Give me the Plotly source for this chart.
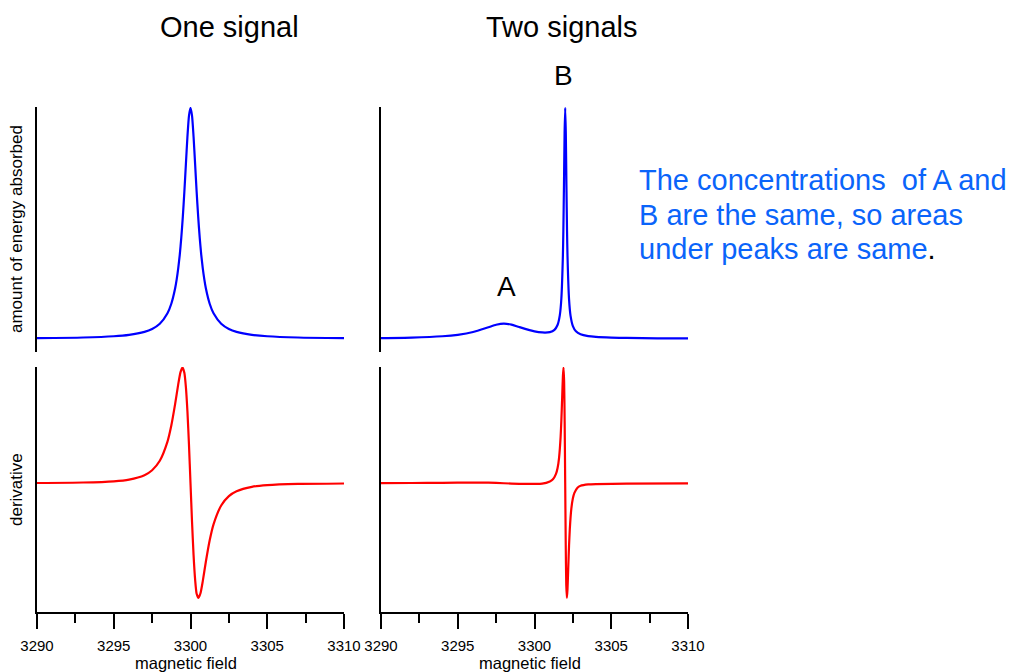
import plotly.graph_objects as go

# ---------------- data ----------------
left_abs_x = [3290, 3293, 3295, 3296, 3297, 3297.5, 3298, 3298.5, 3298.75, 3299,
              3299.1, 3299.2, 3299.3, 3299.4, 3299.5, 3299.6, 3299.7, 3299.8, 3299.9, 3300,
              3300.1, 3300.2, 3300.3, 3300.4, 3300.5, 3300.6, 3300.7, 3300.8, 3300.9, 3301,
              3301.25, 3301.5, 3302, 3302.5, 3303, 3304, 3305, 3307, 3310]
left_abs_y = [0.0028, 0.0057, 0.0111, 0.0173, 0.0303, 0.043, 0.0656, 0.111, 0.152, 0.219,
              0.2575, 0.305, 0.364, 0.438, 0.529, 0.637, 0.757, 0.875, 0.966, 1.0,
              0.966, 0.875, 0.757, 0.637, 0.529, 0.438, 0.364, 0.305, 0.2575, 0.219,
              0.152, 0.111, 0.0656, 0.043, 0.0303, 0.0173, 0.0111, 0.0057, 0.0028]

left_der_x = [3290, 3293, 3295, 3296, 3297, 3297.5, 3298, 3298.5, 3298.75, 3299,
              3299.2, 3299.35, 3299.48, 3299.6, 3299.7, 3299.8, 3299.9, 3300,
              3300.1, 3300.2, 3300.3, 3300.4, 3300.52, 3300.65, 3300.8, 3301,
              3301.25, 3301.5, 3302, 3302.5, 3303, 3304, 3305, 3307, 3310]
left_der_y = [0.0022, 0.0063, 0.0168, 0.0318, 0.070, 0.1125, 0.194, 0.359, 0.498, 0.685,
              0.854, 0.960, 1.0, 0.954, 0.831, 0.621, 0.334, 0.0,
              -0.334, -0.621, -0.831, -0.954, -0.99, -0.95, -0.845, -0.678,
              -0.493, -0.355, -0.192, -0.111, -0.069, -0.031, -0.0166, -0.0062, -0.0022]

right_abs_x = [3290, 3292, 3294, 3295, 3296, 3297, 3297.5, 3298, 3298.5, 3299,
               3300, 3300.5, 3301, 3301.3, 3301.5, 3301.65, 3301.75, 3301.85, 3301.88,
               3301.92, 3301.96, 3302, 3302.04, 3302.08, 3302.12, 3302.15, 3302.25,
               3302.35, 3302.5, 3302.7, 3303, 3303.5, 3304, 3305, 3306, 3308, 3310]
right_abs_y = [0.0032, 0.0055, 0.0111, 0.0175, 0.0294, 0.0502, 0.0609, 0.0658, 0.0613, 0.0510,
               0.0321, 0.0276, 0.0292, 0.039, 0.0598, 0.1027, 0.1745, 0.3615, 0.469,
               0.6655, 0.89, 1.0, 0.89, 0.665, 0.466, 0.360, 0.172,
               0.0995, 0.0552, 0.0325, 0.0194, 0.0116, 0.0084, 0.0054, 0.0039, 0.0024, 0.0016]

right_der_x = [3290, 3292, 3294, 3296, 3297, 3298, 3299, 3300, 3300.5, 3301,
               3301.2, 3301.4, 3301.5, 3301.6, 3301.7, 3301.75, 3301.8, 3301.85, 3301.89,
               3301.93, 3301.965, 3302, 3302.035, 3302.07, 3302.11, 3302.15, 3302.2,
               3302.25, 3302.3, 3302.4, 3302.5, 3302.6, 3302.8, 3303, 3303.5, 3304, 3306, 3310]
right_der_y = [0.001, 0.002, 0.004, 0.006, 0.005, 0.0, -0.005, -0.006, -0.004, 0.016,
               0.034, 0.081, 0.129, 0.22, 0.398, 0.543, 0.730, 0.922, 1.0,
               0.878, 0.53, 0.0, -0.53, -0.878, -0.99, -0.915, -0.725,
               -0.54, -0.396, -0.22, -0.13, -0.083, -0.038, -0.022, -0.01, -0.007, -0.004, -0.001]

tick_vals = [3290, 3295, 3300, 3305, 3310]
tick_text = ["3290", "3295", "3300", "3305", "3310"]

column_titles = ["One signal", "Two signals"]
row_titles = ["amount of energy absorbed", "derivative"]
x_title = "magnetic field"
peak_labels = ["A", "B"]
note_lines = ["The concentrations  of A and", "B are the same, so areas",
              "under peaks are same"]

# ---------------- figure ----------------
W, H = 1010, 672
FONT = "Liberation Sans, Arial, sans-serif"
BLUE = "#0000FF"
RED = "#FF0000"
TXT_BLUE = "#0A64FA"

def px(x):
    return x / W

def py(y):
    return 1 - y / H

xl = [px(37), px(344)]
xr = [px(381), px(688)]
yt = [py(352), py(107)]
yb = [py(612), py(367)]

fig = go.Figure()
line_kw = dict(shape="spline", smoothing=0.6, width=2.2)
fig.add_trace(go.Scatter(x=left_abs_x, y=left_abs_y, mode="lines",
                         line=dict(color=BLUE, **line_kw), xaxis="x", yaxis="y"))
fig.add_trace(go.Scatter(x=right_abs_x, y=right_abs_y, mode="lines",
                         line=dict(color=BLUE, **line_kw), xaxis="x2", yaxis="y2"))
fig.add_trace(go.Scatter(x=left_der_x, y=left_der_y, mode="lines",
                         line=dict(color=RED, **line_kw), xaxis="x3", yaxis="y3"))
fig.add_trace(go.Scatter(x=right_der_x, y=right_der_y, mode="lines",
                         line=dict(color=RED, **line_kw), xaxis="x4", yaxis="y4"))

xr_range = [3290, 3310]
top_x = dict(range=xr_range, visible=False, showgrid=False, zeroline=False,
             automargin=False)
bot_x = dict(range=xr_range, showgrid=False, zeroline=False, showline=True,
             automargin=False,
             linecolor="black", linewidth=2, ticks="outside", ticklen=15,
             tickwidth=2, tickcolor="black", tickvals=tick_vals, ticktext=tick_text,
             tickfont=dict(family=FONT, size=15, color="black"),
             ticklabelstandoff=4,
             minor=dict(dtick=2.5, tick0=3290, ticks="outside", ticklen=9,
                        tickwidth=2, tickcolor="black", showgrid=False))
y_common = dict(showgrid=False, zeroline=False, showline=True, linecolor="black",
                linewidth=2, ticks="", showticklabels=False, automargin=False)

fig.update_layout(
    width=W, height=H,
    margin=dict(l=0, r=0, t=0, b=0, autoexpand=False),
    paper_bgcolor="white", plot_bgcolor="white",
    showlegend=False,
    font=dict(family=FONT, color="black"),
    xaxis=dict(domain=xl, anchor="y", **top_x),
    yaxis=dict(domain=yt, anchor="x", range=[-0.057, 1.004], **y_common),
    xaxis2=dict(domain=xr, anchor="y2", **top_x),
    yaxis2=dict(domain=yt, anchor="x2", range=[-0.057, 1.004], **y_common),
    xaxis3=dict(domain=xl, anchor="y3", **bot_x),
    yaxis3=dict(domain=yb, anchor="x3", range=[-1.112, 1.004], **y_common),
    xaxis4=dict(domain=xr, anchor="y4", **bot_x),
    yaxis4=dict(domain=yb, anchor="x4", range=[-1.112, 1.004], **y_common),
)

ann = []
def add_text(text, x, y, size, color="black", angle=0):
    ann.append(dict(text=text, x=px(x), y=py(y), xref="paper", yref="paper",
                    showarrow=False, xanchor="center", yanchor="middle",
                    textangle=angle, font=dict(family=FONT, size=size, color=color)))

add_text(column_titles[0], 229, 27, 29)
add_text(column_titles[1], 562, 27, 29)
add_text(row_titles[0], 16, 229, 17, angle=-90)
add_text(row_titles[1], 16, 490, 17, angle=-90)
add_text(x_title, 186, 662.5, 16.5)
add_text(x_title, 530, 662.5, 16.5)
add_text(peak_labels[0], 506, 287, 28)
add_text(peak_labels[1], 563, 75, 28)

note_y = [180, 215, 249]
for i, line in enumerate(note_lines):
    txt = line
    if i == len(note_lines) - 1:
        txt = line + "<span style='color:black'>.</span>"
    ann.append(dict(text=txt, x=px(637), y=py(note_y[i]), xref="paper", yref="paper",
                    showarrow=False, xanchor="left", yanchor="middle",
                    font=dict(family=FONT, size=29, color=TXT_BLUE)))

fig.update_layout(annotations=ann)
fig.write_html("out.html")
